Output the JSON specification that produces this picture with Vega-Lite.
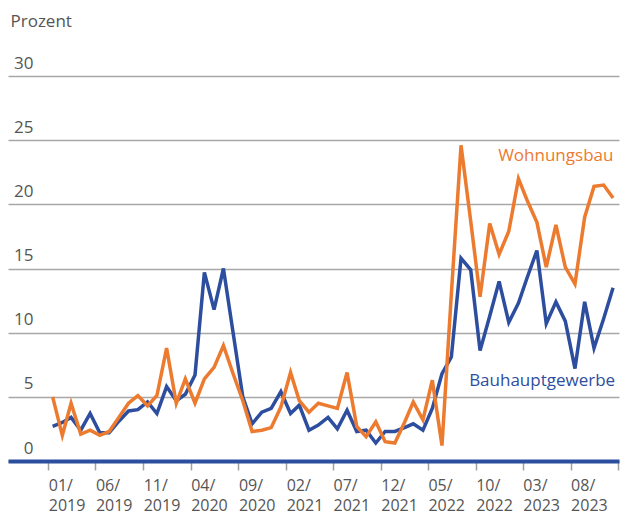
{
  "$schema": "https://vega.github.io/schema/vega-lite/v6.json",
  "width": 611,
  "height": 385,
  "autosize": {"type": "none"},
  "padding": {"left": 8, "top": 76, "right": 4, "bottom": 55},
  "config": {"font": "Open Sans", "view": {"stroke": null}},
  "data": {
    "values": [
      {"date": "2019-01-15", "Wohnungsbau": 5.0, "Bauhauptgewerbe": 2.7},
      {"date": "2019-02-15", "Wohnungsbau": 2.0, "Bauhauptgewerbe": 3.0},
      {"date": "2019-03-15", "Wohnungsbau": 4.5, "Bauhauptgewerbe": 3.4},
      {"date": "2019-04-15", "Wohnungsbau": 2.1, "Bauhauptgewerbe": 2.4},
      {"date": "2019-05-15", "Wohnungsbau": 2.4, "Bauhauptgewerbe": 3.7},
      {"date": "2019-06-15", "Wohnungsbau": 2.0, "Bauhauptgewerbe": 2.2},
      {"date": "2019-07-15", "Wohnungsbau": 2.3, "Bauhauptgewerbe": 2.2},
      {"date": "2019-08-15", "Wohnungsbau": 3.4, "Bauhauptgewerbe": 3.1},
      {"date": "2019-09-15", "Wohnungsbau": 4.5, "Bauhauptgewerbe": 3.9},
      {"date": "2019-10-15", "Wohnungsbau": 5.1, "Bauhauptgewerbe": 4.0},
      {"date": "2019-11-15", "Wohnungsbau": 4.3, "Bauhauptgewerbe": 4.6},
      {"date": "2019-12-15", "Wohnungsbau": 5.1, "Bauhauptgewerbe": 3.7},
      {"date": "2020-01-15", "Wohnungsbau": 8.8, "Bauhauptgewerbe": 5.8},
      {"date": "2020-02-15", "Wohnungsbau": 4.5, "Bauhauptgewerbe": 4.7},
      {"date": "2020-03-15", "Wohnungsbau": 6.4, "Bauhauptgewerbe": 5.2},
      {"date": "2020-04-15", "Wohnungsbau": 4.5, "Bauhauptgewerbe": 6.7},
      {"date": "2020-05-15", "Wohnungsbau": 6.4, "Bauhauptgewerbe": 14.7},
      {"date": "2020-06-15", "Wohnungsbau": 7.3, "Bauhauptgewerbe": 11.8},
      {"date": "2020-07-15", "Wohnungsbau": 9.0, "Bauhauptgewerbe": 15.0},
      {"date": "2020-08-15", "Wohnungsbau": 6.8, "Bauhauptgewerbe": 10.0},
      {"date": "2020-09-15", "Wohnungsbau": 4.7, "Bauhauptgewerbe": 5.0},
      {"date": "2020-10-15", "Wohnungsbau": 2.3, "Bauhauptgewerbe": 2.9},
      {"date": "2020-11-15", "Wohnungsbau": 2.4, "Bauhauptgewerbe": 3.8},
      {"date": "2020-12-15", "Wohnungsbau": 2.6, "Bauhauptgewerbe": 4.1},
      {"date": "2021-01-15", "Wohnungsbau": 4.2, "Bauhauptgewerbe": 5.4},
      {"date": "2021-02-15", "Wohnungsbau": 6.9, "Bauhauptgewerbe": 3.7},
      {"date": "2021-03-15", "Wohnungsbau": 4.7, "Bauhauptgewerbe": 4.35},
      {"date": "2021-04-15", "Wohnungsbau": 3.8, "Bauhauptgewerbe": 2.4},
      {"date": "2021-05-15", "Wohnungsbau": 4.5, "Bauhauptgewerbe": 2.8},
      {"date": "2021-06-15", "Wohnungsbau": 4.3, "Bauhauptgewerbe": 3.4},
      {"date": "2021-07-15", "Wohnungsbau": 4.1, "Bauhauptgewerbe": 2.5},
      {"date": "2021-08-15", "Wohnungsbau": 6.9, "Bauhauptgewerbe": 3.95},
      {"date": "2021-09-15", "Wohnungsbau": 2.7, "Bauhauptgewerbe": 2.3},
      {"date": "2021-10-15", "Wohnungsbau": 1.9, "Bauhauptgewerbe": 2.4},
      {"date": "2021-11-15", "Wohnungsbau": 3.05, "Bauhauptgewerbe": 1.4},
      {"date": "2021-12-15", "Wohnungsbau": 1.5, "Bauhauptgewerbe": 2.3},
      {"date": "2022-01-15", "Wohnungsbau": 1.4, "Bauhauptgewerbe": 2.3},
      {"date": "2022-02-15", "Wohnungsbau": 3.0, "Bauhauptgewerbe": 2.6},
      {"date": "2022-03-15", "Wohnungsbau": 4.6, "Bauhauptgewerbe": 2.9},
      {"date": "2022-04-15", "Wohnungsbau": 3.2, "Bauhauptgewerbe": 2.4},
      {"date": "2022-05-15", "Wohnungsbau": 6.3, "Bauhauptgewerbe": 4.1},
      {"date": "2022-06-15", "Wohnungsbau": 1.2, "Bauhauptgewerbe": 6.8},
      {"date": "2022-07-15", "Wohnungsbau": 13.0, "Bauhauptgewerbe": 8.1},
      {"date": "2022-08-15", "Wohnungsbau": 24.6, "Bauhauptgewerbe": 15.8},
      {"date": "2022-09-15", "Wohnungsbau": 18.7, "Bauhauptgewerbe": 14.9},
      {"date": "2022-10-15", "Wohnungsbau": 12.8, "Bauhauptgewerbe": 8.6},
      {"date": "2022-11-15", "Wohnungsbau": 18.5, "Bauhauptgewerbe": 11.3},
      {"date": "2022-12-15", "Wohnungsbau": 16.1, "Bauhauptgewerbe": 14.0},
      {"date": "2023-01-15", "Wohnungsbau": 17.9, "Bauhauptgewerbe": 10.8},
      {"date": "2023-02-15", "Wohnungsbau": 22.0, "Bauhauptgewerbe": 12.3},
      {"date": "2023-03-15", "Wohnungsbau": 20.3, "Bauhauptgewerbe": 14.3},
      {"date": "2023-04-15", "Wohnungsbau": 18.6, "Bauhauptgewerbe": 16.4},
      {"date": "2023-05-15", "Wohnungsbau": 15.1, "Bauhauptgewerbe": 10.7},
      {"date": "2023-06-15", "Wohnungsbau": 18.4, "Bauhauptgewerbe": 12.4},
      {"date": "2023-07-15", "Wohnungsbau": 15.1, "Bauhauptgewerbe": 10.9},
      {"date": "2023-08-15", "Wohnungsbau": 13.8, "Bauhauptgewerbe": 7.2},
      {"date": "2023-09-15", "Wohnungsbau": 19.0, "Bauhauptgewerbe": 12.4},
      {"date": "2023-10-15", "Wohnungsbau": 21.4, "Bauhauptgewerbe": 8.8},
      {"date": "2023-11-15", "Wohnungsbau": 21.5, "Bauhauptgewerbe": 11.1},
      {"date": "2023-12-15", "Wohnungsbau": 20.5, "Bauhauptgewerbe": 13.5}
    ]
  },
  "transform": [
    {"fold": ["Bauhauptgewerbe", "Wohnungsbau"], "as": ["series", "value"]}
  ],
  "encoding": {
    "x": {
      "field": "date",
      "type": "temporal",
      "scale": {
        "type": "utc",
        "domain": [
          {"year": 2018, "month": 8, "date": 25, "utc": true},
          {"year": 2024, "month": 1, "date": 3, "utc": true}
        ]
      },
      "axis": {
        "values": [
          {"year": 2019, "month": 1, "date": 1, "utc": true},
          {"year": 2019, "month": 6, "date": 1, "utc": true},
          {"year": 2019, "month": 11, "date": 1, "utc": true},
          {"year": 2020, "month": 4, "date": 1, "utc": true},
          {"year": 2020, "month": 9, "date": 1, "utc": true},
          {"year": 2021, "month": 2, "date": 1, "utc": true},
          {"year": 2021, "month": 7, "date": 1, "utc": true},
          {"year": 2021, "month": 12, "date": 1, "utc": true},
          {"year": 2022, "month": 5, "date": 1, "utc": true},
          {"year": 2022, "month": 10, "date": 1, "utc": true},
          {"year": 2023, "month": 3, "date": 1, "utc": true},
          {"year": 2023, "month": 8, "date": 1, "utc": true},
          {"year": 2024, "month": 1, "date": 1, "utc": true}
        ],
        "labelExpr": "utcyear(datum.value) >= 2024 ? '' : [utcFormat(datum.value, '%m/'), utcFormat(datum.value, '%Y')]",
        "labelAlign": "left",
        "labelBaseline": "top",
        "labelPadding": 7,
        "labelLineHeight": 20,
        "labelFontSize": 16,
        "labelColor": "#555555",
        "labelFont": "Open Sans",
        "labelFlush": false,
        "labelOverlap": false,
        "labelBound": false,
        "tickSize": 9,
        "tickColor": "#a0a0a0",
        "tickWidth": 1.5,
        "domainColor": "#2d4e9e",
        "domainWidth": 4,
        "grid": false,
        "title": null
      }
    },
    "y": {
      "field": "value",
      "type": "quantitative",
      "scale": {"domain": [0, 30], "nice": false},
      "axis": {
        "values": [0, 5, 10, 15, 20, 25, 30],
        "grid": true,
        "gridColor": "#a8a8a8",
        "gridWidth": 1.5,
        "domain": false,
        "ticks": false,
        "labelAlign": "right",
        "labelBaseline": "alphabetic",
        "labelPadding": -25,
        "labelOffset": -8,
        "labelFontSize": 17,
        "labelColor": "#555555",
        "labelFont": "Open Sans",
        "title": "Prozent",
        "titleAngle": 0,
        "titleX": 2,
        "titleY": -50,
        "titleAlign": "left",
        "titleBaseline": "alphabetic",
        "titleFontSize": 17,
        "titleFontWeight": "normal",
        "titleColor": "#555555",
        "titleFont": "Open Sans"
      }
    },
    "color": {
      "field": "series",
      "type": "nominal",
      "scale": {"domain": ["Wohnungsbau", "Bauhauptgewerbe"], "range": ["#ec7a2f", "#2d4e9e"]},
      "legend": null
    }
  },
  "layer": [
    {
      "transform": [{"filter": "datum.series === 'Bauhauptgewerbe'"}],
      "mark": {"type": "line", "strokeWidth": 3.5, "strokeJoin": "miter", "strokeCap": "butt"}
    },
    {
      "transform": [{"filter": "datum.series === 'Wohnungsbau'"}],
      "mark": {"type": "line", "strokeWidth": 3.5, "strokeJoin": "miter", "strokeCap": "butt"}
    },
    {
      "data": {
        "values": [
          {"series": "Wohnungsbau", "date": "2022-12-12", "value": 23.4},
          {"series": "Bauhauptgewerbe", "date": "2022-09-10", "value": 5.86}
        ]
      },
      "transform": [],
      "mark": {"type": "text", "align": "left", "baseline": "alphabetic", "fontSize": 17, "font": "Open Sans"},
      "encoding": {"text": {"field": "series"}}
    }
  ]
}
